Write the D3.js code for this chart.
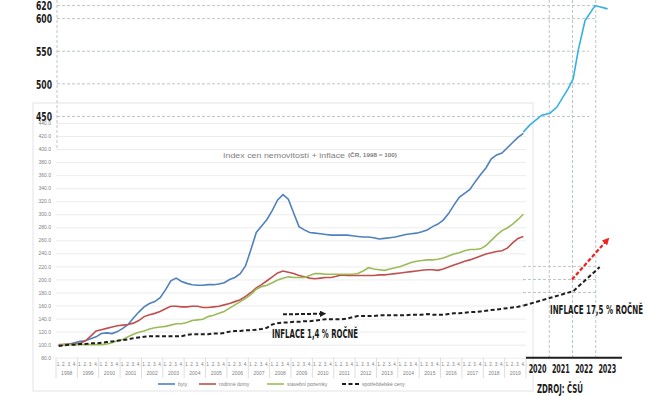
<!DOCTYPE html>
<html>
<head>
<meta charset="utf-8">
<script src="https://cdn.jsdelivr.net/npm/d3@7"></script>
<style>
  body { margin: 0; background: #fff; }
  svg { display: block; }
  .small { font-family: "Liberation Sans", Arial, sans-serif; fill: #7f7f7f; }
  .big { font-family: "Liberation Sans Narrow", "DejaVu Sans Condensed", sans-serif; font-weight: bold; fill: #1a1a1a; }
</style>
</head>
<body>
<svg width="650" height="396"></svg>
<script>
// categories
const years = ["1998", "1999", "2000", "2001", "2002", "2003", "2004", "2005", "2006", "2007", "2008",
  "2009", "2010", "2011", "2012", "2013", "2014", "2015", "2016", "2017", "2018", "2019"];
const quarters = ["1.", "2.", "3.", "4."];

// index values, one per quarter 1998 Q1 .. 2019 Q4
const byty = [99, 100, 101, 103, 105, 106, 109, 112, 117, 118, 117, 120, 125, 131, 141, 150,
  158, 163, 166, 172, 184, 198, 202, 197, 194, 192, 191, 191, 192, 192, 193, 195,
  200, 203, 209, 221, 246, 272, 282, 292, 306, 322, 330, 323, 302, 281, 276, 272,
  271, 270, 269, 268, 268, 268, 268, 267, 266, 265, 265, 264, 262, 263, 264, 265,
  267, 269, 270, 271, 273, 276, 281, 285, 291, 301, 314, 326, 332, 338, 350, 361,
  371, 385, 391, 394, 402, 410, 418, 424];
const rodinneDomy = [100, 100, 101, 101, 102, 106, 113, 121, 123, 125, 127, 129, 130, 131, 133, 137,
  143, 146, 148, 151, 155, 159, 159, 158, 158, 159, 159, 157, 157, 158, 159, 161,
  163, 166, 169, 174, 180, 187, 192, 198, 204, 210, 213, 211, 209, 206, 204, 202,
  201, 202, 203, 203, 205, 207, 206, 206, 206, 206, 206, 206, 207, 207, 208, 209,
  210, 211, 212, 213, 214, 215, 215, 214, 216, 219, 222, 225, 228, 230, 233, 236,
  239, 241, 243, 244, 248, 256, 263, 266];
const pozemky = [99, 100, 100, 100, 100, 100, 100, 100, 100, 101, 103, 106, 108, 112, 116, 119,
  121, 124, 126, 127, 128, 130, 132, 132, 134, 137, 138, 139, 143, 145, 148, 151,
  156, 161, 166, 171, 177, 185, 189, 191, 195, 199, 202, 204, 203, 203, 203, 206,
  209, 209, 208, 208, 208, 208, 208, 208, 209, 213, 218, 216, 215, 214, 216, 218,
  220, 223, 226, 228, 229, 230, 230, 231, 233, 236, 239, 241, 244, 246, 246, 247,
  252, 260, 268, 275, 279, 285, 292, 300];
const spotrebitelske = [98, 99, 100, 100, 101, 101, 102, 102, 103, 104, 105, 106, 107, 108, 110, 111,
  112, 113, 113, 113, 113, 113, 113, 113, 115, 116, 116, 116, 116, 117, 117, 118,
  120, 121, 121, 122, 122, 123, 124, 126, 131, 133, 134, 134, 135, 135, 136, 136,
  137, 138, 139, 139, 139, 139, 140, 142, 144, 144, 144, 144, 145, 145, 145, 145,
  145, 145, 146, 146, 146, 147, 146, 146, 146, 147, 148, 148, 149, 150, 150, 151,
  152, 153, 154, 155, 156, 157, 158, 160];

// pasted-on continuation 2020-2023 (time in years)
const bytyNewT = [2019.88, 2020.17, 2020.68, 2021.03, 2021.32, 2021.82, 2022.03, 2022.25, 2022.54, 2022.97, 2023.51];
const bytyNew = [426, 437, 452, 455, 464, 493, 508, 552, 597, 620, 615];
const cpiNewT = [2019.9, 2022.03, 2023.17];
const cpiNew = [160, 182, 219];
const arrowT = [2021.98, 2023.48];
const arrowV = [200, 260];

// tick labels
const innerTicks = [80, 100, 120, 140, 160, 180, 200, 220, 240, 260, 280, 300, 320, 340, 360, 380, 400, 420, 440];
const bigTicks = [450, 500, 550, 600, 620];
const lowTicks = [180, 200, 220];
const newYears = [2020, 2021, 2022, 2023];

const series = [
  { name: "byty", values: byty, color: "#4f81bd", dash: null },
  { name: "rodinné domy", values: rodinneDomy, color: "#c0504d", dash: null },
  { name: "stavební pozemky", values: pozemky, color: "#9bbb59", dash: null },
  { name: "spotřebitelské ceny", values: spotrebitelske, color: "#1e1e1e", dash: "4,2.5" },
];

const keys = [];
years.forEach(yr => quarters.forEach(q => keys.push(yr + "-" + q)));

const svg = d3.select("svg");

// scales
const x = d3.scaleBand().domain(keys).range([56, 526]);
const xi = i => 56 + x.step() * (i + 0.5);
const y = d3.scaleLinear().domain([80, 620]).range([357.7, 5.6]);
const x2 = d3.scaleLinear().domain([2020, 2024]).range([526, 619]);

// frame of the inner (excel) chart
svg.append("rect")
  .attr("x", 33).attr("y", 103).attr("width", 500).attr("height", 288)
  .attr("fill", "#fff").attr("stroke", "#e3e3e3");

// inner y axis with gridlines
const gy = svg.append("g")
  .attr("transform", "translate(56,0)")
  .call(d3.axisLeft(y).tickValues(innerTicks).tickFormat(d3.format(".1f")).tickSize(-470).tickPadding(5));
gy.select(".domain").remove();
gy.selectAll("line").attr("stroke", "#ececec");
gy.selectAll("text").attr("class", "small").attr("font-size", 5).attr("fill", "#8a8a8a");

// inner x axis: quarter and year rows
const gx = svg.append("g");
gx.selectAll("text.q")
  .data(keys)
  .join("text")
  .attr("class", "small q")
  .attr("x", d => x(d) + x.bandwidth() / 2)
  .attr("y", 365.5)
  .attr("text-anchor", "middle")
  .attr("font-size", 4.6)
  .text(d => d.split("-")[1]);
gx.selectAll("text.yr")
  .data(years)
  .join("text")
  .attr("class", "small yr")
  .attr("x", d => x(d + "-2.") + x.step())
  .attr("y", 374.5)
  .attr("text-anchor", "middle")
  .attr("font-size", 5)
  .text(d => d);
gx.selectAll("line")
  .data(years.concat(["end"]))
  .join("line")
  .attr("x1", (d, i) => 56 + i * 4 * x.step())
  .attr("x2", (d, i) => 56 + i * 4 * x.step())
  .attr("y1", 357.7).attr("y2", 378)
  .attr("stroke", "#dedede");

// title
svg.append("text")
  .attr("class", "small")
  .attr("x", 223).attr("y", 157.5)
  .attr("font-size", 7.5).attr("fill", "#7a7a7a")
  .attr("textLength", 122).attr("lengthAdjust", "spacingAndGlyphs")
  .text("Index cen nemovitostí + inflace");
svg.append("text")
  .attr("class", "small")
  .attr("x", 348).attr("y", 157.3)
  .attr("font-size", 5.4).attr("font-weight", "bold").attr("fill", "#222")
  .attr("textLength", 49).attr("lengthAdjust", "spacingAndGlyphs")
  .text("(ČR, 1998 = 100)");

// overlay grid (dashed)
const dashGrid = "#bcc5c5";
svg.selectAll("line.bigGrid")
  .data(bigTicks)
  .join("line")
  .attr("class", "bigGrid")
  .attr("x1", 57).attr("x2", d => (d >= 600 ? 597 : 589))
  .attr("y1", d => y(d)).attr("y2", d => y(d))
  .attr("stroke", dashGrid).attr("stroke-dasharray", "3,2");
svg.selectAll("line.lowGrid")
  .data(lowTicks)
  .join("line")
  .attr("class", "lowGrid")
  .attr("x1", 523).attr("x2", 596)
  .attr("y1", d => y(d)).attr("y2", d => y(d))
  .attr("stroke", dashGrid).attr("stroke-dasharray", "3,2");
svg.append("line")
  .attr("x1", 57).attr("x2", 57).attr("y1", 0).attr("y2", y(400))
  .attr("stroke", dashGrid).attr("stroke-dasharray", "3,2");
svg.selectAll("line.vGrid")
  .data(newYears.slice(1))
  .join("line")
  .attr("class", "vGrid")
  .attr("x1", d => x2(d)).attr("x2", d => x2(d))
  .attr("y1", 0).attr("y2", 357.7)
  .attr("stroke", dashGrid).attr("stroke-dasharray", "3,2");

// big y labels
svg.selectAll("text.bigTick")
  .data(bigTicks)
  .join("text")
  .attr("class", "big bigTick")
  .attr("x", 52)
  .attr("y", d => y(d) + 4.8)
  .attr("text-anchor", "end")
  .attr("font-size", 13)
  .attr("textLength", 16).attr("lengthAdjust", "spacingAndGlyphs")
  .text(d => d);

// series lines
const line = d3.line()
  .x((d, i) => x(keys[i]) + x.bandwidth() / 2)
  .y(d => y(d));

svg.selectAll("path.series")
  .data(series)
  .join("path")
  .attr("class", "series")
  .attr("fill", "none")
  .attr("stroke", d => d.color)
  .attr("stroke-width", d => (d.dash ? 2 : 1.6))
  .attr("stroke-dasharray", d => d.dash)
  .attr("d", d => line(d.values));

// continuation 2020-2023
const line2 = d3.line().x(d => x2(d[0])).y(d => y(d[1]));
svg.append("path")
  .attr("fill", "none").attr("stroke", "#35b0e6").attr("stroke-width", 1.6)
  .attr("d", line2(bytyNewT.map((t, i) => [t, bytyNew[i]])));
svg.append("path")
  .attr("fill", "none").attr("stroke", "#1e1e1e").attr("stroke-width", 2)
  .attr("stroke-dasharray", "4,2.5")
  .attr("d", line2(cpiNewT.map((t, i) => [t, cpiNew[i]])));

// arrows
const defs = svg.append("defs");
function marker(id, color) {
  defs.append("marker")
    .attr("id", id).attr("viewBox", "0 0 10 10")
    .attr("refX", 5).attr("refY", 5)
    .attr("markerWidth", 3.2).attr("markerHeight", 3.2)
    .attr("orient", "auto")
    .append("path").attr("d", "M0,0L10,5L0,10Z").attr("fill", color);
}
marker("redHead", "#f0201c");
marker("blackHead", "#1e1e1e");

svg.append("line")
  .attr("x1", x2(arrowT[0])).attr("y1", y(arrowV[0]))
  .attr("x2", x2(arrowT[1])).attr("y2", y(arrowV[1]))
  .attr("stroke", "#f0201c").attr("stroke-width", 2.2)
  .attr("stroke-dasharray", "4,2")
  .attr("marker-end", "url(#redHead)");

svg.append("line")
  .attr("x1", xi(42)).attr("y1", y(146.5))
  .attr("x2", xi(49.5)).attr("y2", y(147.5))
  .attr("stroke", "#1e1e1e").attr("stroke-width", 2)
  .attr("stroke-dasharray", "4,2")
  .attr("marker-end", "url(#blackHead)");

// overlay x axis
svg.append("line")
  .attr("x1", 526).attr("x2", 622).attr("y1", 357.7).attr("y2", 357.7)
  .attr("stroke", "#1e1e1e").attr("stroke-width", 2);
svg.selectAll("text.newYear")
  .data(newYears)
  .join("text")
  .attr("class", "big newYear")
  .attr("x", d => x2(d + 0.5))
  .attr("y", 372.5)
  .attr("text-anchor", "middle")
  .attr("font-size", 12.5)
  .attr("textLength", 18).attr("lengthAdjust", "spacingAndGlyphs")
  .text(d => d);

// annotations
svg.append("text")
  .attr("class", "big")
  .attr("x", 272).attr("y", 337.7)
  .attr("font-size", 13)
  .attr("textLength", 86).attr("lengthAdjust", "spacingAndGlyphs")
  .text("INFLACE 1,4 % ROČNĚ");
svg.append("text")
  .attr("class", "big")
  .attr("x", 550).attr("y", 314.3)
  .attr("font-size", 13)
  .attr("textLength", 93).attr("lengthAdjust", "spacingAndGlyphs")
  .text("INFLACE 17,5 % ROČNĚ");
svg.append("text")
  .attr("class", "big")
  .attr("x", 537).attr("y", 393)
  .attr("font-size", 13)
  .attr("textLength", 46).attr("lengthAdjust", "spacingAndGlyphs")
  .text("ZDROJ: ČSÚ");

// legend
const legendX = [158, 199, 267, 342];
const lg = svg.selectAll("g.legend")
  .data(series)
  .join("g")
  .attr("class", "legend")
  .attr("transform", (d, i) => `translate(${legendX[i]},384)`);
lg.append("line")
  .attr("x1", 0).attr("x2", 17)
  .attr("stroke", d => d.color)
  .attr("stroke-width", d => (d.dash ? 2 : 1.6))
  .attr("stroke-dasharray", d => d.dash);
lg.append("text")
  .attr("class", "small")
  .attr("x", 20).attr("y", 1.8)
  .attr("font-size", 5)
  .text(d => d.name);
</script>
</body>
</html>
